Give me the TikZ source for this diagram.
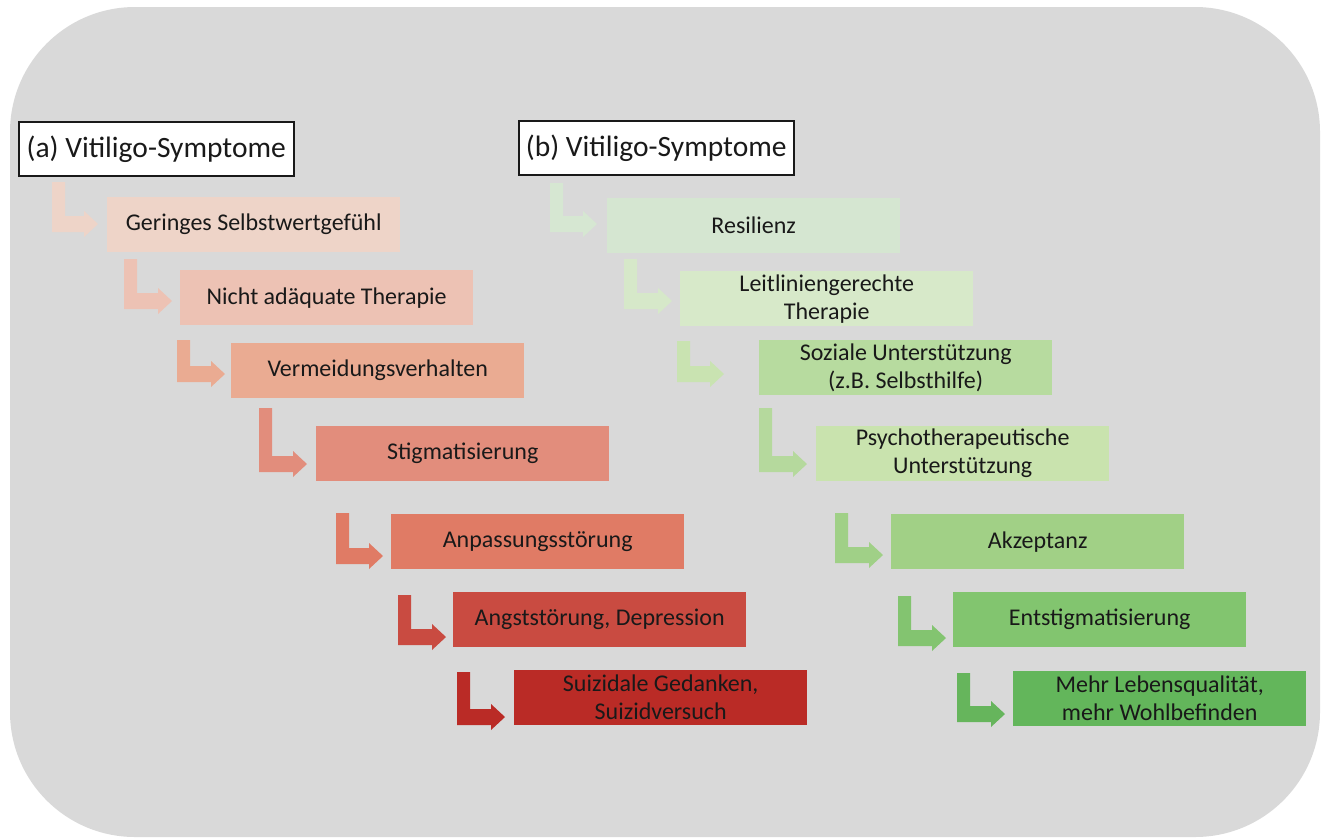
\documentclass[tikz,border=0pt]{standalone}
\usepackage{fontspec}
\setmainfont{Carlito}
\begin{document}
\begin{tikzpicture}[x=1pt,y=-1pt,
  box/.style={anchor=north west,minimum width=293pt,minimum height=55pt,inner sep=0pt,align=center,font=\fontsize{24}{28}\selectfont,text=black!90},
  headbox/.style={anchor=north west,draw=black!90,line width=1.6pt,fill=white,minimum width=275pt,minimum height=54pt,inner sep=0pt,font=\fontsize{29.5}{33}\selectfont,text=black!90}]
\definecolor{bg}{HTML}{D9D9D9}
\definecolor{rA}{HTML}{EED4C8}\definecolor{rB}{HTML}{EDC2B4}\definecolor{rC}{HTML}{EAAB92}
\definecolor{rD}{HTML}{E28D7C}\definecolor{rE}{HTML}{E07B65}\definecolor{rF}{HTML}{C94B41}\definecolor{rG}{HTML}{BA2B26}
\definecolor{gA}{HTML}{D5E6D1}\definecolor{gB}{HTML}{D7E9C9}\definecolor{gC}{HTML}{B7DB9F}
\definecolor{gD}{HTML}{C9E3AE}\definecolor{gE}{HTML}{A1D086}\definecolor{gF}{HTML}{82C56F}\definecolor{gG}{HTML}{63B65B}
\definecolor{gaA}{HTML}{D6E7D2}\definecolor{gaB}{HTML}{D6E8C9}\definecolor{gaC}{HTML}{C9E3B1}
\definecolor{gaD}{HTML}{B5D99D}\definecolor{gaE}{HTML}{A0D087}\definecolor{gaF}{HTML}{83C470}\definecolor{gaG}{HTML}{66B55C}
\newcommand\barrow[5]{\fill[#1] (#2,#3) -- ++(13,0) |- (#5-14,#4-16) -- (#5-14,#4-21) -- (#5,#4-8) -- (#5-14,#4+5) -- (#5-14,#4) -- (#2,#4) -- cycle;}
\useasboundingbox (0,0) rectangle (1322,839);
\fill[bg,rounded corners=125pt] (10,7) rectangle (1320,837);
% headers
\node[headbox] (ha) at (18,121) {(a) Vitiligo-Symptome};
\node[headbox] (hb) at (518,120) {(b) Vitiligo-Symptome};
% left column
\node[box,fill=rA] (a1) at (107,197) {Geringes Selbstwertgefühl};
\node[box,fill=rB] (a2) at (180,270) {Nicht adäquate Therapie};
\node[box,fill=rC] (a3) at (231,343) {Vermeidungsverhalten};
\node[box,fill=rD] (a4) at (316,426) {Stigmatisierung};
\node[box,fill=rE] (a5) at (391,514) {Anpassungsstörung};
\node[box,fill=rF] (a6) at (453,592) {Angststörung, Depression};
\node[box,fill=rG] (a7) at (514,670) {Suizidale Gedanken,\\Suizidversuch};
% right column
\node[box,fill=gA] (b1) at (607,198) {Resilienz};
\node[box,fill=gB] (b2) at (680,271) {Leitliniengerechte\\Therapie};
\node[box,fill=gC] (b3) at (759,340) {Soziale Unterstützung\\(z.B. Selbsthilfe)};
\node[box,fill=gD] (b4) at (816,426) {Psychotherapeutische\\Unterstützung};
\node[box,fill=gE] (b5) at (891,514) {Akzeptanz};
\node[box,fill=gF] (b6) at (953,592) {Entstigmatisierung};
\node[box,fill=gG] (b7) at (1013,671) {Mehr Lebensqualität,\\mehr Wohlbefinden};
% red bent arrows
\barrow{rA}{52}{182}{232}{98}
\barrow{rB}{124}{259}{309}{172}
\barrow{rC}{177}{340}{382}{225}
\barrow{rD}{259}{408}{472}{307}
\barrow{rE}{336}{513}{564}{383}
\barrow{rF}{398}{595}{645}{446}
\barrow{rG}{457}{672}{725}{505}
% green bent arrows
\barrow{gaA}{550}{183}{232}{597}
\barrow{gaB}{624}{259}{309}{672}
\barrow{gaC}{677}{341}{382}{724}
\barrow{gaD}{759}{408}{472}{807}
\barrow{gaE}{835}{513}{563}{883}
\barrow{gaF}{898}{596}{646}{946}
\barrow{gaG}{957}{673}{722}{1005}
\end{tikzpicture}
\end{document}
